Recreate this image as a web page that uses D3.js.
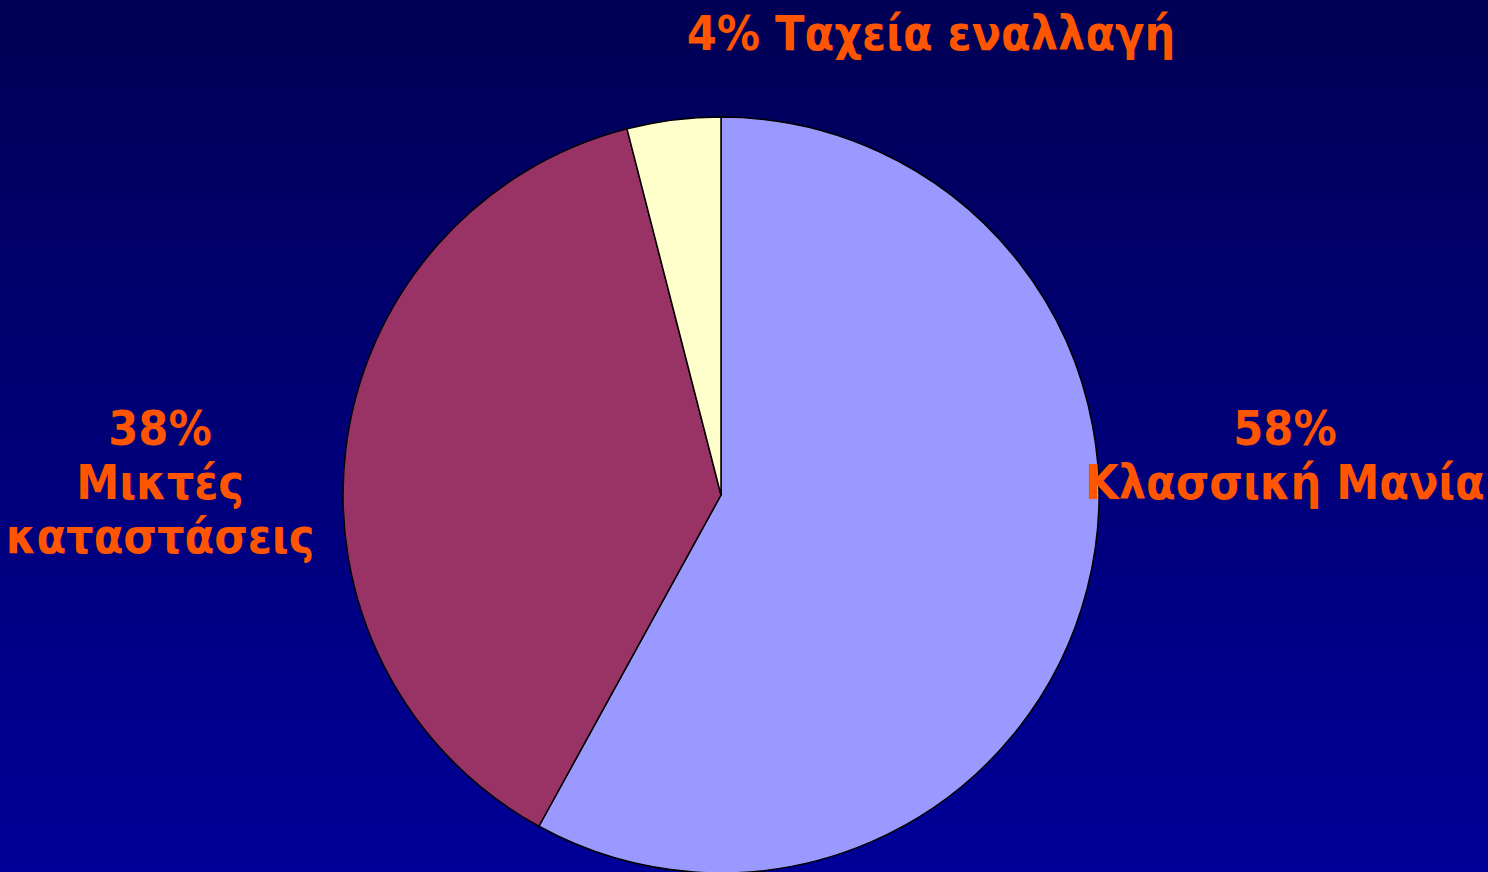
<!DOCTYPE html>
<html>
<head>
<meta charset="utf-8">
<script src="https://cdn.jsdelivr.net/npm/d3@7"></script>
<style>
  html, body { margin: 0; padding: 0; overflow: hidden; }
  svg { display: block; }
</style>
</head>
<body>
<svg id="chart" width="1488" height="872"></svg>
<script>
// slice data, clockwise from 12 o'clock
const categories = ["Κλασσική Μανία", "Μικτές καταστάσεις", "Ταχεία εναλλαγή"];
const values = [58, 38, 4];
const colors = ["#9999FF", "#993366", "#FFFFCC"];

const width = 1488;
const height = 872;
const cx = 721;
const cy = 495;
const radius = 378;

const svg = d3.select("#chart");

// background gradient
const defs = svg.append("defs");
const bg = defs
  .append("linearGradient")
  .attr("id", "bg-grad")
  .attr("x1", "0%")
  .attr("y1", "0%")
  .attr("x2", "0%")
  .attr("y2", "100%");
bg.append("stop").attr("offset", "0%").attr("stop-color", "#000055");
bg.append("stop").attr("offset", "100%").attr("stop-color", "#000099");

svg
  .append("rect")
  .attr("width", width)
  .attr("height", height)
  .attr("fill", "url(#bg-grad)");

const pie = d3.pie().sort(null).value((d) => d);
const arc = d3.arc().innerRadius(0).outerRadius(radius);

const g = svg.append("g").attr("transform", `translate(${cx},${cy})`);

g.selectAll("path")
  .data(pie(values))
  .join("path")
  .attr("d", arc)
  .attr("fill", (d, i) => colors[i])
  .attr("stroke", "#000")
  .attr("stroke-width", 1.5)
  .attr("stroke-linejoin", "round");

// labels (text lines per slice)
const labelLines = [
  [values[0] + "%", "Κλασσική Μανία"],
  [values[1] + "%", "Μικτές", "καταστάσεις"],
  [values[2] + "% " + categories[2]],
];
const labelAnchor = [
  { x: 1285, y: 445 },
  { x: 160, y: 445 },
  { x: 931, y: 50 },
];
const lineHeight = 54;

svg
  .selectAll(".slice-label")
  .data(labelLines)
  .join("text")
  .attr("class", "slice-label")
  .attr("text-anchor", "middle")
  .style("font-family", "'DejaVu Sans Condensed', 'DejaVu Sans', Verdana, sans-serif")
  .style("font-stretch", "condensed")
  .style("font-weight", "bold")
  .style("font-size", "48px")
  .style("fill", "#FF5500")
  .each(function (lines, i) {
    const t = d3.select(this);
    lines.forEach((line, j) => {
      t.append("tspan")
        .attr("x", labelAnchor[i].x)
        .attr("y", labelAnchor[i].y + j * lineHeight)
        .text(line);
    });
  });
</script>
</body>
</html>
